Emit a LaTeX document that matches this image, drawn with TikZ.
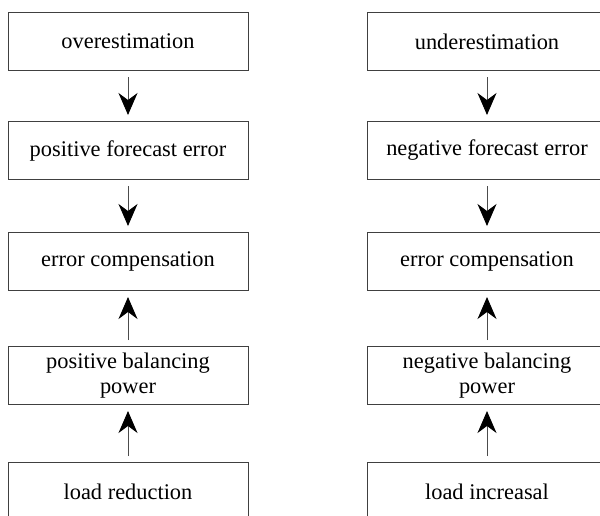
\documentclass[tikz,border=0pt]{standalone}
\usepackage{fontspec}
\setmainfont{Liberation Serif}
\usepackage{tikz}
\tikzstyle{block}=[draw=black!75, line width=0.5pt, minimum width=120pt, minimum height=29pt, inner sep=2pt, align=center]
\tikzstyle{arrow}=[draw=black!70, line width=0.5pt, -{Stealth[length=11pt,width=9.5pt,inset=3.5pt,black]}, shorten >=3pt, shorten <=3pt]
\usetikzlibrary{arrows.meta,positioning}

\begin{document}
\begin{tikzpicture}[node distance=26pt,font=\fontsize{11.2}{12.5}\selectfont]
\useasboundingbox (0,0) rectangle (300pt,-257.5pt);
\clip (0,0) rectangle (300pt,-257.5pt);

% positive side
\node (p1) [block] at (64pt,-20.75pt) {overestimation};
\node (p2) [block, below=25pt of p1] {positive forecast error};
\node (p3) [block, below=26pt of p2] {error compensation};
\node (p4) [block, below=27.5pt of p3] {positive balancing\\power};
\node (p5) [block, below=28.5pt of p4] {load reduction};
\draw[arrow] (p1) -- (p2);
\draw[arrow] (p2) -- (p3);
\draw[arrow] (p4) -- (p3);
\draw[arrow] (p5) -- (p4);

% negative side
\node (n1) [block, right=59pt of p1] {underestimation};
\node (n2) [block, right=59pt of p2] {negative forecast error};
\node (n3) [block, right=59pt of p3] {error compensation};
\node (n4) [block, right=59pt of p4] {negative balancing\\power};
\node (n5) [block, right=59pt of p5] {load increasal};
\draw[arrow] (n1) -- (n2);
\draw[arrow] (n2) -- (n3);
\draw[arrow] (n4) -- (n3);
\draw[arrow] (n5) -- (n4);

\end{tikzpicture}
\end{document}
